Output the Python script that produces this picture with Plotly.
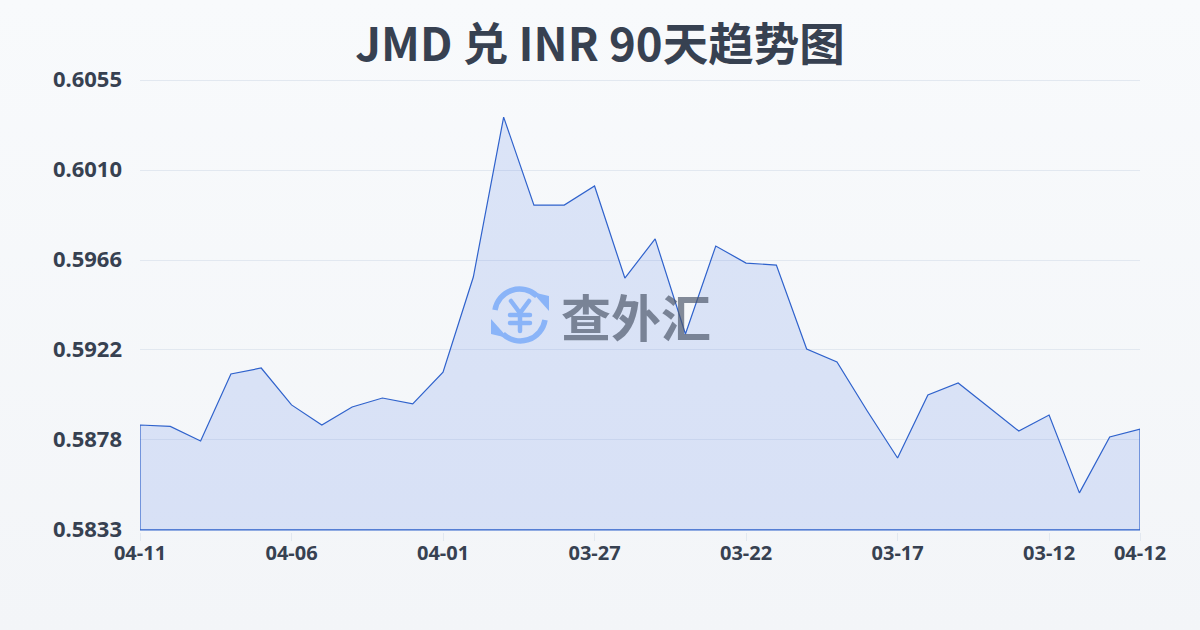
import urllib.parse
import plotly.graph_objects as go

TITLE = "JMD 兑 INR 90天趋势图"
WATERMARK = "查外汇"
dates = ["04-11","04-10","04-09","04-08","04-07","04-06","04-05","04-04","04-03","04-02",
         "04-01","03-31","03-30","03-29","03-28","03-27","03-26","03-25","03-24","03-23",
         "03-22","03-21","03-20","03-19","03-18","03-17","03-16","03-15","03-14","03-13",
         "03-12","03-11","03-10","04-12"]
rates = [0.58848,0.58841,0.58769,0.59100,0.59129,0.58947,0.58848,0.58937,0.58981,0.58952,
         0.59109,0.59578,0.60367,0.59933,0.59933,0.60027,0.59573,0.59766,0.59297,0.59731,
         0.59647,0.59637,0.59223,0.59159,0.58917,0.58685,0.58996,0.59055,0.58937,0.58818,
         0.58897,0.58513,0.58789,0.58828]
y_ticks = [0.5833,0.58774,0.59218,0.59662,0.60106,0.6055]
y_labels = ["0.5833","0.5878","0.5922","0.5966","0.6010","0.6055"]
x_ticks = ["04-11","04-06","04-01","03-27","03-22","03-17","03-12","04-12"]
y_min, y_max = 0.5833, 0.6055
y_view = [0.58320, 0.60560]

TEXT = "#374151"
FONT = "Noto Sans, Noto Sans CJK SC"
CJK = "Noto Sans CJK SC"

bg_svg = ('<svg xmlns="http://www.w3.org/2000/svg" width="1200" height="630">'
          '<defs><linearGradient id="g" x1="0" y1="0" x2="0" y2="1">'
          '<stop offset="0" stop-color="#f8fafc"/><stop offset="1" stop-color="#f3f5f8"/>'
          '</linearGradient></defs><rect width="1200" height="630" fill="url(#g)"/></svg>')
icon_svg = ('<svg xmlns="http://www.w3.org/2000/svg" width="60" height="60" viewBox="0 0 60 60">'
            '<g fill="none" stroke="#8ab4f8" stroke-width="5.5">'
            '<path d="M5 25 A25 25 0 0 1 47 11"/><path d="M55 35 A25 25 0 0 1 13 49"/>'
            '<path stroke-linecap="round" stroke-width="4.5" d="M21 16 L30 28 L39 16 M30 28 V46 M20 30 H40 M20 38 H40"/>'
            '</g><g fill="#8ab4f8"><path d="M42 7 L59 11 L59 26 Z"/><path d="M18 53 L1 49 L1 34 Z"/></g></svg>')

def uri(svg):
    return "data:image/svg+xml;charset=utf-8," + urllib.parse.quote(svg)

W, H, L, R, T, B = 1200, 630, 140, 60, 78, 98
PW, PH = W - L - R, H - T - B

fig = go.Figure(go.Scatter(
    x=dates + [dates[-1], dates[0], dates[0]],
    y=rates + [y_min, y_min, rates[0]],
    mode="lines",
    line=dict(color="#2f62cc", width=1.2),
    fill="toself",
    fillcolor="rgba(59,110,225,0.15)",
    cliponaxis=False,
    hoverinfo="skip",
))
fig.update_layout(
    width=W, height=H, autosize=False,
    margin=dict(l=L, r=R, t=T, b=B),
    paper_bgcolor="#f5f7fa", plot_bgcolor="rgba(0,0,0,0)",
    showlegend=False,
    font=dict(family=FONT, color=TEXT),
    title=dict(text=f"<b>{TITLE}</b>", x=0.5, xanchor="center", y=0.928, yanchor="middle",
               font=dict(size=45.5, family=CJK, color=TEXT)),
    xaxis=dict(type="category", categoryorder="array", categoryarray=dates, range=[0, len(dates)-1],
               tickmode="array", tickvals=x_ticks, ticktext=[f"<b>{t}</b>" for t in x_ticks],
               showgrid=False, zeroline=False, showline=False,
               ticks="outside", ticklen=8, tickwidth=1, tickcolor="#e2e8f0",
               ticklabelstandoff=-5,
               tickfont=dict(size=20, family=FONT, color=TEXT)),
    yaxis=dict(range=y_view, tickmode="array", tickvals=y_ticks, ticktext=[f"<b>{s}</b>" for s in y_labels],
               showgrid=True, gridcolor="#e2e8f0", gridwidth=1, zeroline=False, showline=False,
               ticks="", ticklabelstandoff=17, ticklabelshift=-1,
               tickfont=dict(size=22, family=FONT, color=TEXT)),
    images=[
        dict(source=uri(bg_svg), xref="paper", yref="paper", x=-L/PW, y=1+T/PH, sizex=W/PW, sizey=H/PH,
             xanchor="left", yanchor="top", sizing="stretch", layer="below"),
        dict(source=uri(icon_svg), xref="paper", yref="paper", x=(490-L)/PW, y=1-(285-T)/PH,
             sizex=60/PW, sizey=60/PH, xanchor="left", yanchor="top", sizing="stretch", layer="above"),
    ],
    annotations=[dict(text=f"<b>{WATERMARK}</b>", xref="paper", yref="paper", x=(636-L)/PW, y=1-(315-T)/PH,
                      xanchor="center", yanchor="middle", showarrow=False,
                      font=dict(size=50, family=CJK, color="rgba(75,85,105,0.68)"))],
)
fig.write_html("out.html", config={"displayModeBar": False}, post_script="document.body.style.margin='0';")
